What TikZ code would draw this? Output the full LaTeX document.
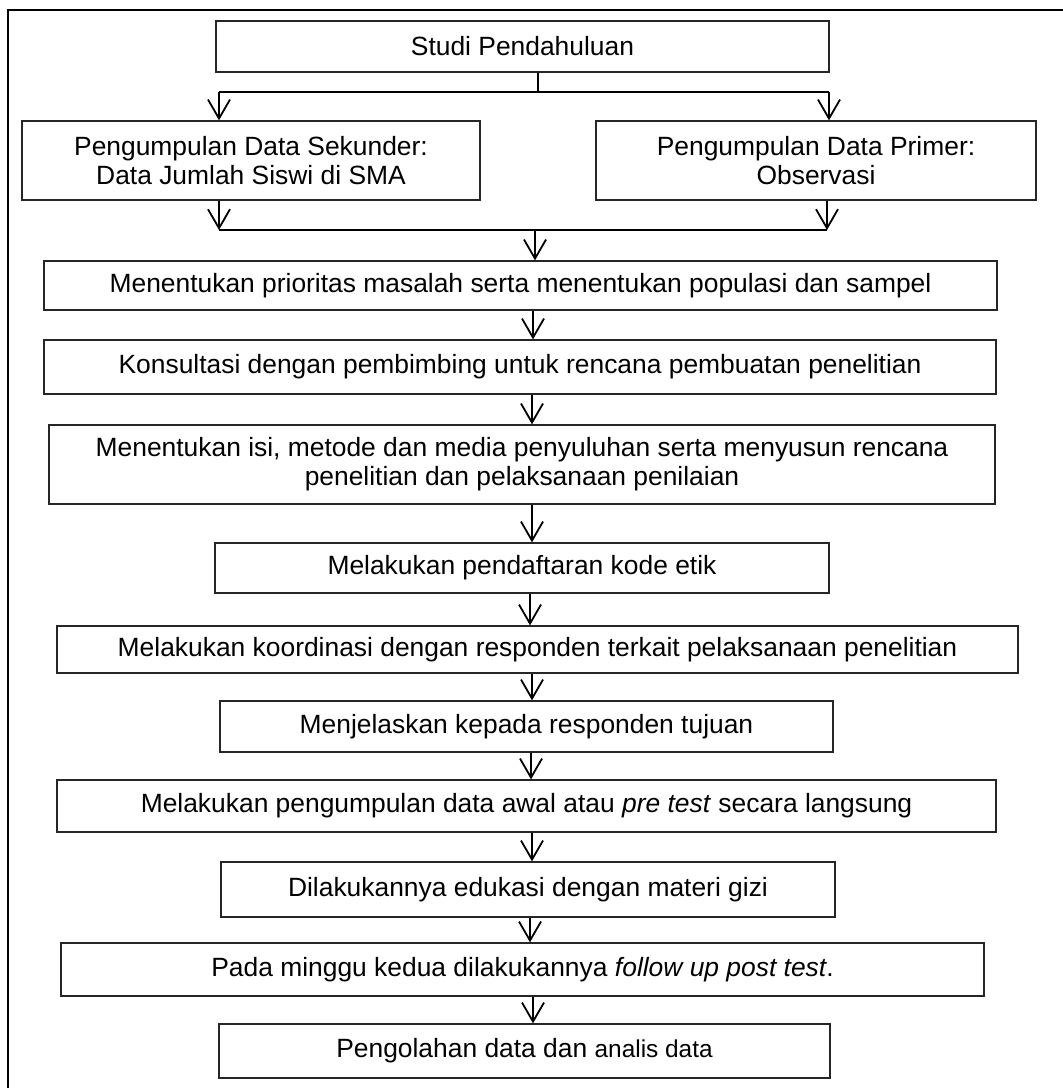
\documentclass[tikz,border=0pt]{standalone}
\usepackage{fontspec}
\setmainfont{Liberation Sans}
\usetikzlibrary{arrows.meta}
\begin{document}
\begin{tikzpicture}[x=1pt,y=-1pt,
  box/.style={draw=black!85, line width=1.3pt, inner sep=0pt, align=center,
    font=\fontsize{26.4pt}{29pt}\selectfont},
  link/.style={draw=black, line width=1.8pt},
  arr/.style={link, -{Straight Barb[length=19pt,width=22pt]}},
  frame/.style={draw=black, line width=2pt}]
\useasboundingbox (0,0) rectangle (1063,1088);
\draw[frame] (8,1088) -- (8,10) -- (1063,10);

\node[box, minimum width=613, minimum height=51] (s) at (522.5,46.5) {Studi Pendahuluan};
\node[box, minimum width=458, minimum height=79] (L) at (251,160.5) {Pengumpulan Data Sekunder:\\Data Jumlah Siswi di SMA};
\node[box, minimum width=440, minimum height=79] (R) at (816,160.5) {Pengumpulan Data Primer:\\Observasi};
\node[box, minimum width=953, minimum height=49] (b3) at (520.5,285.5) {Menentukan prioritas masalah serta menentukan populasi dan sampel};
\node[box, minimum width=952, minimum height=54] (b4) at (520,367) {Konsultasi dengan pembimbing untuk rencana pembuatan penelitian};
\node[box, minimum width=946, minimum height=79] (b5) at (522,464.5) {Menentukan isi, metode dan media penyuluhan serta menyusun rencana\\penelitian dan pelaksanaan penilaian};
\node[box, minimum width=614, minimum height=50] (b6) at (522,568) {Melakukan pendaftaran kode etik};
\node[box, minimum width=961, minimum height=47] (b7) at (537.5,649.5) {\raisebox{-3pt}{Melakukan koordinasi dengan responden terkait pelaksanaan penelitian}};
\node[box, minimum width=613, minimum height=51] (b8) at (526.5,726.5) {Menjelaskan kepada responden tujuan};
\node[box, minimum width=939, minimum height=52] (b9) at (526.5,806) {Melakukan pengumpulan data awal atau \textit{pre test} secara langsung};
\node[box, minimum width=614, minimum height=55] (b10) at (528,889.5) {Dilakukannya edukasi dengan materi gizi};
\node[box, minimum width=923, minimum height=53] (b11) at (522.5,969.5) {Pada minggu kedua dilakukannya \textit{follow up post test}.};
\node[box, minimum width=611, minimum height=54] (b12) at (524.5,1051) {Pengolahan data dan {\fontsize{24.4pt}{29pt}\selectfont analis data}};

% split from Studi Pendahuluan
\coordinate (jc) at (538,92);
\coordinate (jl) at (219,92);
\coordinate (jr) at (829,92);
\draw[link] (s.south -| jc) -- (jc);
\draw[link] (jl) -- (jr);
\draw[arr] (jl) -- (jl |- L.north);
\draw[arr] (jr) -- (jr |- R.north);

% merge into b3
\coordinate (ml) at (219,230);
\coordinate (mr) at (827,230);
\coordinate (mc) at (535,230);
\draw[arr] (L.south -| ml) -- (ml);
\draw[arr] (R.south -| mr) -- (mr);
\draw[link] (ml) -- (mr);
\draw[arr] (mc) -- (mc |- b3.north);

% chain
\coordinate (a3) at (533,0);
\coordinate (a4) at (532,0);
\coordinate (a5) at (532,0);
\coordinate (a6) at (530,0);
\coordinate (a7) at (532,0);
\coordinate (a8) at (531,0);
\coordinate (a9) at (532,0);
\coordinate (a10) at (530,0);
\coordinate (a11) at (533,0);
\draw[arr] (a3 |- b3.south) -- (a3 |- b4.north);
\draw[arr] (a4 |- b4.south) -- (a4 |- b5.north);
\draw[arr] (a5 |- b5.south) -- (a5 |- b6.north);
\draw[arr] (a6 |- b6.south) -- (a6 |- b7.north);
\draw[arr] (a7 |- b7.south) -- (a7 |- b8.north);
\draw[arr] (a8 |- b8.south) -- (a8 |- b9.north);
\draw[arr] (a9 |- b9.south) -- (a9 |- b10.north);
\draw[arr] (a10 |- b10.south) -- (a10 |- b11.north);
\draw[arr] (a11 |- b11.south) -- (a11 |- b12.north);
\end{tikzpicture}
\end{document}
